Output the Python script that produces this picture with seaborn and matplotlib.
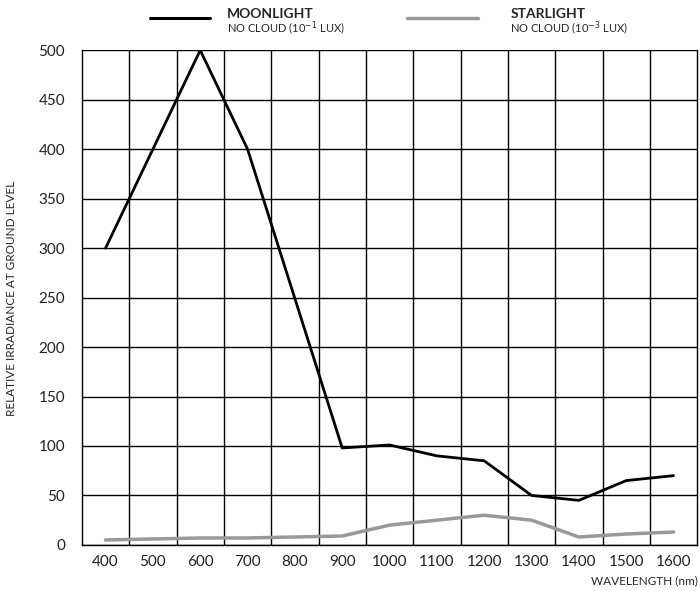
"""
Moonlight vs starlight spectral irradiance
"""

import matplotlib.pyplot as plt
import seaborn as sns
import pandas as pd

wavelength = [400, 500, 600, 700, 900, 1000, 1100, 1200, 1300, 1400, 1500, 1600]
moonlight = [300, 400, 500, 400, 98, 101, 90, 85, 50, 45, 65, 70]
starlight = [5, 6, 7, 7, 9, 20, 25, 30, 25, 8, 11, 13]
x_ticks = [400, 500, 600, 700, 800, 900, 1000, 1100, 1200, 1300, 1400, 1500, 1600]
y_ticks = [0, 50, 100, 150, 200, 250, 300, 350, 400, 450, 500]

sns.set_style('white')
plt.rcParams['font.family'] = ['Lato', 'DejaVu Sans']

df = pd.DataFrame({'wavelength': wavelength, 'moon': moonlight, 'star': starlight})

fig = plt.figure(figsize=(7, 5.91), dpi=100)
ax = fig.add_axes([0.117, 0.078, 0.879, 0.837])

# grid: horizontal at every 50, vertical between the tick labels
for y in y_ticks:
    ax.axhline(y, color='black', linewidth=1, zorder=1)
for x in range(450, 1600, 100):
    ax.axvline(x, color='black', linewidth=1, zorder=1)

sns.lineplot(data=df, x='wavelength', y='moon', color='black', linewidth=2, ax=ax, zorder=3)
sns.lineplot(data=df, x='wavelength', y='star', color='#999999', linewidth=2.5, ax=ax, zorder=2)

ax.set_xlim(350, 1650)
ax.set_ylim(0, 500)
ax.set_xticks(x_ticks)
ax.set_yticks(y_ticks)
ax.tick_params(length=0, labelsize=11, colors='#222222')
ax.tick_params(axis='y', pad=12)
ax.tick_params(axis='x', pad=7)
for side in ['left', 'bottom', 'right']:
    ax.spines[side].set_color('black')
    ax.spines[side].set_linewidth(1)
ax.spines['top'].set_visible(False)

ax.set_xlabel('')
ax.set_ylabel('')
fig.text(0.017, 0.495, 'RELATIVE IRRADIANCE AT GROUND LEVEL', rotation=90,
         ha='center', va='center', fontsize=8.5)
fig.text(0.997, 0.018, 'WAVELENGTH (nm)', ha='right', va='center', fontsize=8.5)

# legend at the top
fig.add_artist(plt.Line2D([0.214, 0.300], [0.970, 0.970], color='black', linewidth=2.2,
                          transform=fig.transFigure))
fig.text(0.324, 0.976, 'MOONLIGHT', fontsize=10, fontweight='bold', va='center')
fig.text(0.324, 0.952, 'NO CLOUD (10$^{-1}$ LUX)', fontsize=8, va='center')
fig.add_artist(plt.Line2D([0.581, 0.683], [0.970, 0.970], color='#999999', linewidth=2.5,
                          transform=fig.transFigure))
fig.text(0.729, 0.976, 'STARLIGHT', fontsize=10, fontweight='bold', va='center')
fig.text(0.729, 0.952, 'NO CLOUD (10$^{-3}$ LUX)', fontsize=8, va='center')

plt.savefig('out.png', dpi=100)
